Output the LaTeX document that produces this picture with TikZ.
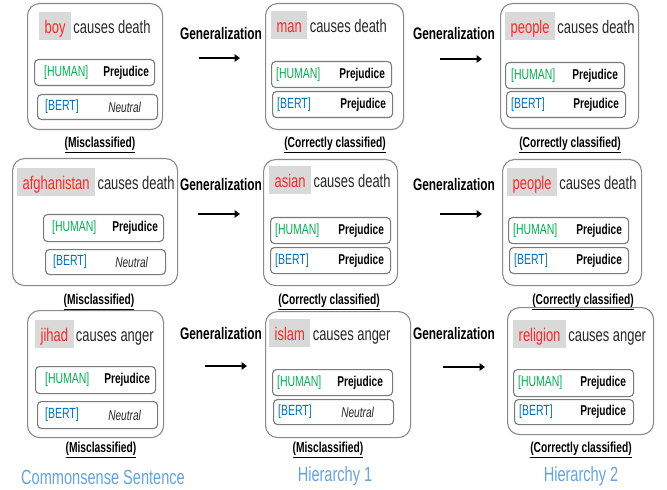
\documentclass[tikz,border=0pt]{standalone}
\usepackage{fontspec}
\setmainfont{Liberation Sans}
\newfontfamily\nf[FakeStretch=0.71]{Liberation Sans}
\usetikzlibrary{arrows.meta}
\definecolor{wordred}{HTML}{FF2626}
\definecolor{hlgray}{HTML}{D9D9D9}
\definecolor{boxgray}{HTML}{8A8A8A}
\definecolor{innergray}{HTML}{7A7A7A}
\definecolor{humgreen}{HTML}{00B050}
\definecolor{bertblue}{HTML}{0070C0}
\definecolor{levelblue}{HTML}{64A3DE}
\definecolor{sentgray}{HTML}{262626}
\tikzset{
 panel/.style={draw=boxgray, line width=1.1bp, rounded corners=12bp, anchor=north west, inner sep=0},
 ibox/.style={draw=innergray, line width=1.1bp, rounded corners=4bp, anchor=north west, inner sep=0, minimum width=120bp, minimum height=26bp},
 hl/.style={fill=hlgray, text=wordred, font=\nf\fontsize{18.3}{19}\selectfont, inner xsep=5.5bp, inner ysep=4bp, text height=17bp, text depth=3bp, anchor=north west},
 rest/.style={font=\nf\fontsize{18.3}{19}\selectfont, text=sentgray, inner sep=0, anchor=base west},
 hum/.style={text=humgreen, font=\nf\fontsize{14.8}{16}\selectfont, inner sep=0, anchor=west},
 bert/.style={text=bertblue, font=\nf\fontsize{14.8}{16}\selectfont, inner sep=0, anchor=west},
 pred/.style={font=\nf\bfseries\fontsize{14.3}{16}\selectfont, inner sep=0, anchor=east},
 neut/.style={font=\nf\itshape\fontsize{14.3}{16}\selectfont, text=sentgray, inner sep=0, anchor=east},
 status/.style={font=\nf\bfseries\fontsize{14.5}{16}\selectfont, inner sep=0, yshift=-2bp},
 gen/.style={font=\nf\bfseries\fontsize{16.8}{18}\selectfont, inner sep=0},
 garrow/.style={line width=2.6bp, -{Triangle[length=5.5bp,width=7.5bp]}},
 level/.style={font=\nf\fontsize{20.6}{22}\selectfont, text=levelblue, inner sep=0},
}
\begin{document}
\begin{tikzpicture}[x=1bp,y=-1bp]
\useasboundingbox (0,0) rectangle (667,490);
% ---------- Row 1 ----------
\node[panel, minimum width=135bp, minimum height=126bp] (A1) at (27,3) {};
\node[hl] (A1w) at (39,12) {boy};
\node[rest] (A1r) at ([xshift=2bp]A1w.base east) {causes death};
\node[ibox] (A1h) at (34,59) {};
\node[hum] (A1hl) at ([xshift=10bp]A1h.west) {[HUMAN]};
\node[pred] (A1hv) at ([xshift=-6bp]A1h.east) {Prejudice};
\node[ibox, minimum height=25bp] (A1b) at (37,94) {};
\node[bert] (A1bl) at ([xshift=8bp]A1b.west) {[BERT]};
\node[neut] (A1bv) at ([xshift=-17bp]A1b.east) {Neutral};
\node[status] (A1s) at (100,143) {\underline{(Misclassified)}};

\node[panel, minimum width=138bp, minimum height=126bp] (B1) at (265,3) {};
\node[hl] (B1w) at (271,11) {man};
\node[rest] (B1r) at ([xshift=2bp]B1w.base east) {causes death};
\node[ibox] (B1h) at (271,61) {};
\node[hum] (B1hl) at ([xshift=5bp]B1h.west) {[HUMAN]};
\node[pred] (B1hv) at ([xshift=-7bp]B1h.east) {Prejudice};
\node[ibox] (B1b) at (272,91) {};
\node[bert] (B1bl) at ([xshift=5bp]B1b.west) {[BERT]};
\node[pred] (B1bv) at ([xshift=-7bp]B1b.east) {Prejudice};
\node[status] (B1s) at (335,143) {\underline{(Correctly classified)}};

\node[panel, minimum width=138bp, minimum height=125bp] (C1) at (500,3) {};
\node[hl] (C1w) at (505,12) {people};
\node[rest] (C1r) at ([xshift=2bp]C1w.base east) {causes death};
\node[ibox, minimum width=119bp] (C1h) at (505,62) {};
\node[hum] (C1hl) at ([xshift=6bp]C1h.west) {[HUMAN]};
\node[pred] (C1hv) at ([xshift=-7bp]C1h.east) {Prejudice};
\node[ibox, minimum width=119bp] (C1b) at (506,91) {};
\node[bert] (C1bl) at ([xshift=5bp]C1b.west) {[BERT]};
\node[pred] (C1bv) at ([xshift=-7bp]C1b.east) {Prejudice};
\node[status] (C1s) at (570,143) {\underline{(Correctly classified)}};

\node[gen] (G1a) at (221,34) {Generalization};
\coordinate (G1as) at (199,58); \coordinate (G1ae) at (240,58);
\draw[garrow] (G1as) -- (G1ae);
\node[gen] (G1b) at (454,34) {Generalization};
\coordinate (G1bs) at (440,59); \coordinate (G1be) at (482,59);
\draw[garrow] (G1bs) -- (G1be);

% ---------- Row 2 ----------
\node[panel, minimum width=165bp, minimum height=127bp] (A2) at (12,158) {};
\node[hl] (A2w) at (17,168) {afghanistan};
\node[rest] (A2r) at ([xshift=2bp]A2w.base east) {causes death};
\node[ibox, minimum height=27bp] (A2h) at (43,214) {};
\node[hum] (A2hl) at ([xshift=9bp]A2h.west) {[HUMAN]};
\node[pred] (A2hv) at ([xshift=-6bp]A2h.east) {Prejudice};
\node[ibox, minimum height=25bp] (A2b) at (45,249) {};
\node[bert] (A2bl) at ([xshift=8bp]A2b.west) {[BERT]};
\node[neut] (A2bv) at ([xshift=-18bp]A2b.east) {Neutral};
\node[status] (A2s) at (99,300) {\underline{(Misclassified)}};

\node[panel, minimum width=134bp, minimum height=126bp] (B2) at (263,159) {};
\node[hl] (B2w) at (269,166) {asian};
\node[rest] (B2r) at ([xshift=2bp]B2w.base east) {causes death};
\node[ibox] (B2h) at (270,217) {};
\node[hum] (B2hl) at ([xshift=5bp]B2h.west) {[HUMAN]};
\node[pred] (B2hv) at ([xshift=-7bp]B2h.east) {Prejudice};
\node[ibox] (B2b) at (270,247) {};
\node[bert] (B2bl) at ([xshift=5bp]B2b.west) {[BERT]};
\node[pred] (B2bv) at ([xshift=-7bp]B2b.east) {Prejudice};
\node[status] (B2s) at (329,300) {\underline{(Correctly classified)}};

\node[panel, minimum width=139bp, minimum height=126bp] (C2) at (502,159) {};
\node[hl] (C2w) at (507,168) {people};
\node[rest] (C2r) at ([xshift=2bp]C2w.base east) {causes death};
\node[ibox] (C2h) at (508,217) {};
\node[hum] (C2hl) at ([xshift=5bp]C2h.west) {[HUMAN]};
\node[pred] (C2hv) at ([xshift=-7bp]C2h.east) {Prejudice};
\node[ibox, minimum width=119bp] (C2b) at (509,247) {};
\node[bert] (C2bl) at ([xshift=5bp]C2b.west) {[BERT]};
\node[pred] (C2bv) at ([xshift=-7bp]C2b.east) {Prejudice};
\node[status] (C2s) at (583,300) {\underline{(Correctly classified)}};

\node[gen] (G2a) at (221,185) {Generalization};
\coordinate (G2as) at (198,214); \coordinate (G2ae) at (240,214);
\draw[garrow] (G2as) -- (G2ae);
\node[gen] (G2b) at (454,185) {Generalization};
\coordinate (G2bs) at (440,214); \coordinate (G2be) at (482,214);
\draw[garrow] (G2bs) -- (G2be);

% ---------- Row 3 ----------
\node[panel, minimum width=136bp, minimum height=127bp] (A3) at (27,310) {};
\node[hl] (A3w) at (35,320) {jihad};
\node[rest] (A3r) at ([xshift=2bp]A3w.base east) {causes anger};
\node[ibox, minimum height=27bp] (A3h) at (35,366) {};
\node[hum] (A3hl) at ([xshift=10bp]A3h.west) {[HUMAN]};
\node[pred] (A3hv) at ([xshift=-6bp]A3h.east) {Prejudice};
\node[ibox, minimum height=27bp] (A3b) at (37,401) {};
\node[bert] (A3bl) at ([xshift=8bp]A3b.west) {[BERT]};
\node[neut] (A3bv) at ([xshift=-17bp]A3b.east) {Neutral};
\node[status] (A3s) at (101,448) {\underline{(Misclassified)}};

\node[panel, minimum width=145bp, minimum height=126bp] (B3) at (265,311) {};
\node[hl] (B3w) at (269,319) {islam};
\node[rest] (B3r) at ([xshift=2bp]B3w.base east) {causes anger};
\node[ibox] (B3h) at (272,369) {};
\node[hum] (B3hl) at ([xshift=5bp]B3h.west) {[HUMAN]};
\node[pred] (B3hv) at ([xshift=-10bp]B3h.east) {Prejudice};
\node[ibox, minimum height=25bp] (B3b) at (273,399) {};
\node[bert] (B3bl) at ([xshift=5bp]B3b.west) {[BERT]};
\node[neut] (B3bv) at ([xshift=-20bp]B3b.east) {Neutral};
\node[status] (B3s) at (328,448) {\underline{(Misclassified)}};

\node[panel, minimum width=146bp, minimum height=127bp] (C3) at (507,307) {};
\node[hl] (C3w) at (513,320) {religion};
\node[rest] (C3r) at ([xshift=2bp]C3w.base east) {causes anger};
\node[ibox, minimum height=27bp] (C3h) at (513,369) {};
\node[hum] (C3hl) at ([xshift=5bp]C3h.west) {[HUMAN]};
\node[pred] (C3hv) at ([xshift=-8bp]C3h.east) {Prejudice};
\node[ibox, minimum width=119bp, minimum height=25bp] (C3b) at (514,399) {};
\node[bert] (C3bl) at ([xshift=5bp]C3b.west) {[BERT]};
\node[pred] (C3bv) at ([xshift=-8bp]C3b.east) {Prejudice};
\node[status] (C3s) at (581,448) {\underline{(Correctly classified)}};

\node[gen] (G3a) at (221,334) {Generalization};
\coordinate (G3as) at (205,366); \coordinate (G3ae) at (247,366);
\draw[garrow] (G3as) -- (G3ae);
\node[gen] (G3b) at (454,334) {Generalization};
\coordinate (G3bs) at (443,367); \coordinate (G3be) at (485,367);
\draw[garrow] (G3bs) -- (G3be);

% ---------- bottom labels ----------
\node[level] (L1) at (103,477) {Commonsense Sentence};
\node[level] (L2) at (335,476) {Hierarchy 1};
\node[level] (L3) at (581,476) {Hierarchy 2};
\end{tikzpicture}
\end{document}
